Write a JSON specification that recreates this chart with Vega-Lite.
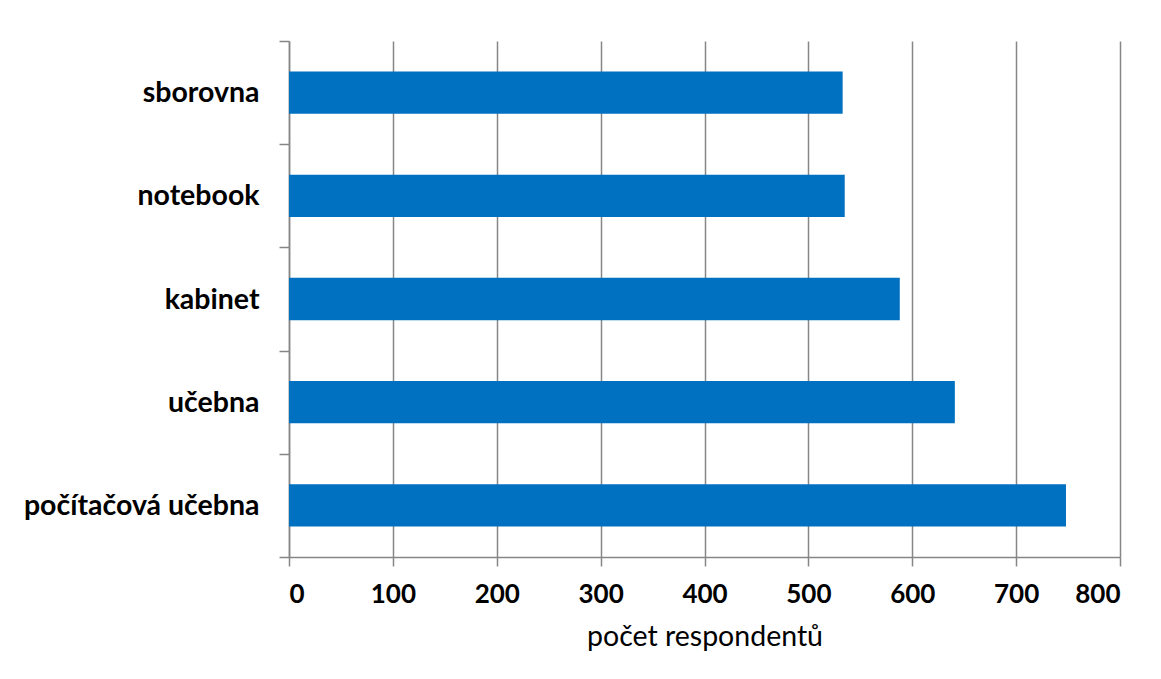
{
  "$schema": "https://vega.github.io/schema/vega-lite/v6.json",
  "autosize": "none",
  "width": 831,
  "height": 516,
  "padding": {"left": 289, "top": 41, "right": 41, "bottom": 122},
  "background": "white",
  "data": {
    "values": [
      {"misto": "sborovna", "pocet": 533},
      {"misto": "notebook", "pocet": 535},
      {"misto": "kabinet", "pocet": 588},
      {"misto": "učebna", "pocet": 641},
      {"misto": "počítačová učebna", "pocet": 748}
    ]
  },
  "mark": {"type": "bar", "color": "#0070C0", "height": {"band": 0.41}},
  "encoding": {
    "y": {
      "field": "misto",
      "type": "nominal",
      "sort": ["sborovna", "notebook", "kabinet", "učebna", "počítačová učebna"],
      "scale": {"paddingInner": 0, "paddingOuter": 0},
      "axis": {
        "title": null,
        "tickBand": "extent",
        "tickSize": 10,
        "tickColor": "#868686",
        "tickWidth": 1.5,
        "domainColor": "#868686",
        "domainWidth": 1.5,
        "labelFont": "Lato",
        "labelFontSize": 28.5,
        "labelFontWeight": "bold",
        "labelColor": "#000000",
        "labelPadding": 20,
        "labelLimit": 300,
        "grid": false
      }
    },
    "x": {
      "field": "pocet",
      "type": "quantitative",
      "scale": {"domain": [0, 800], "nice": false},
      "axis": {
        "title": "počet respondentů",
        "values": [0, 100, 200, 300, 400, 500, 600, 700, 800],
        "tickSize": 9,
        "tickColor": "#868686",
        "tickWidth": 1.5,
        "domainColor": "#868686",
        "domainWidth": 1.5,
        "gridColor": "#868686",
        "gridWidth": 1.5,
        "gridOpacity": 1,
        "labelFont": "Lato",
        "labelFontSize": 26,
        "labelFontWeight": "bold",
        "labelColor": "#000000",
        "labelPadding": 15,
        "titleFont": "Lato",
        "titleFontSize": 28.5,
        "titleFontWeight": "normal",
        "titleColor": "#000000",
        "titlePadding": 15
      }
    }
  },
  "config": {"view": {"stroke": null}}
}
